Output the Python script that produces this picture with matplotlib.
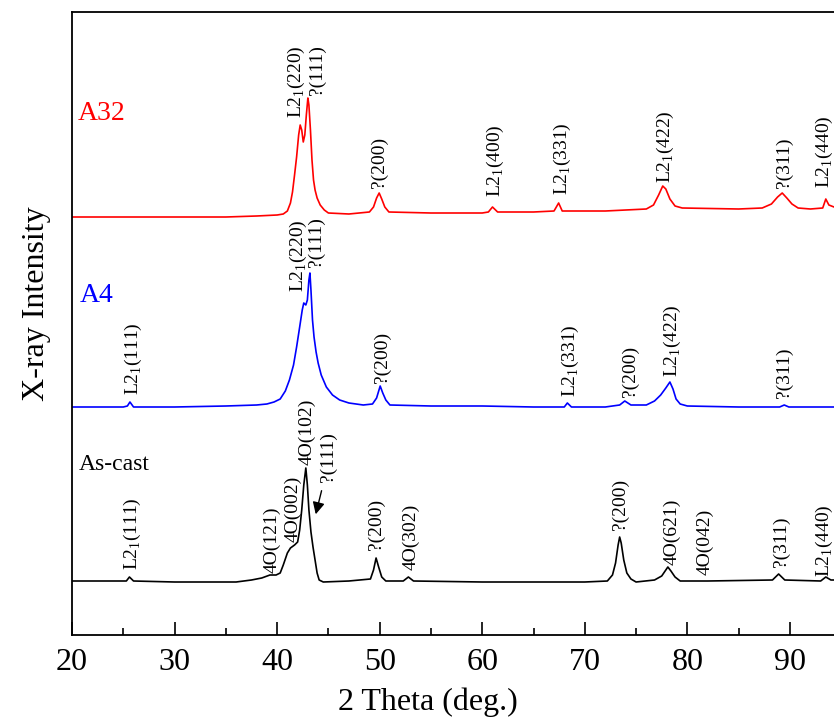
import matplotlib
matplotlib.use("Agg")
import matplotlib.pyplot as plt
from matplotlib.ticker import MultipleLocator

plt.rcParams['font.family'] = ['Liberation Serif', 'DejaVu Serif']
plt.rcParams['mathtext.fontset'] = 'custom'
plt.rcParams['mathtext.rm'] = 'Liberation Serif'

# traces (already offset), x = 2 theta
a32_x = [20, 25, 30, 35, 38, 40.0, 40.6, 41.0, 41.3, 41.5, 41.7, 41.9, 42.1, 42.25, 42.4,
         42.55, 42.7, 42.85, 43.0, 43.1, 43.25, 43.4, 43.55, 43.7, 43.9, 44.2, 44.6, 45.0,
         47, 49.0, 49.4, 49.7, 49.95, 50.2, 50.5, 50.9, 55, 60, 60.6, 61.0, 61.5,
         65, 67.0, 67.45, 67.8, 72, 76, 76.7, 77.2, 77.6, 77.9, 78.3, 78.8, 79.5, 85,
         87.3, 88.2, 88.8, 89.25, 89.7, 90.2, 90.8, 92, 93.2, 93.5, 93.8, 94.3]
a32_y = [418, 418, 418, 418, 419, 420, 421, 424, 432, 443, 460, 478, 500, 510, 505,
         493, 500, 520, 537, 530, 505, 475, 455, 445, 437, 430, 425, 422,
         421, 423, 428, 437, 442, 436, 428, 423, 422, 422, 423, 428, 423,
         423, 424, 432, 424, 424, 426, 430, 440, 449, 446, 436, 429, 427, 426,
         427, 431, 438, 442, 437, 431, 427, 426, 427, 436, 430, 428]

a4_x = [20, 25, 25.4, 25.65, 26.0, 30, 35, 38, 39, 39.7, 40.3, 40.8, 41.2, 41.6, 41.9,
        42.2, 42.45, 42.6, 42.8, 42.95, 43.1, 43.2, 43.3, 43.45, 43.6, 43.8, 44.0, 44.3,
        44.8, 45.4, 46.1, 47, 48.4, 49.3, 49.7, 50.05, 50.3, 50.6, 51.0, 55, 60, 65,
        68.0, 68.3, 68.7, 72, 73.4, 73.9, 74.5, 76.0, 76.8, 77.4, 77.9, 78.3, 78.6,
        78.9, 79.3, 80, 85, 89.0, 89.45, 89.9, 94.3]
a4_y = [228, 228, 229, 233, 228, 228, 229, 230, 231, 233, 236, 244, 255, 270, 288,
        308, 325, 332, 330, 335, 355, 362, 345, 315, 298, 283, 272, 260,
        248, 240, 235, 232, 230, 231, 237, 249, 242, 235, 230, 229, 229, 228,
        228, 232, 228, 228, 230, 234, 230, 230, 234, 240, 247, 253, 246,
        236, 231, 229, 228, 228, 230, 228, 228]

cast_x = [20, 24, 25.3, 25.6, 26.0, 30, 34, 36, 37.5, 38.5, 39.3, 39.9, 40.3, 40.6, 41.0,
          41.3, 41.7, 42.0, 42.2, 42.4, 42.6, 42.8, 42.95, 43.1, 43.3, 43.5, 43.7, 43.9,
          44.1, 44.5, 47, 49.1, 49.4, 49.65, 49.9, 50.2, 50.6, 52.3, 52.8, 53.3, 60, 70,
          72.2, 72.7, 73.0, 73.25, 73.4, 73.55, 73.8, 74.1, 74.5, 75, 76.8, 77.5, 77.9,
          78.1, 78.4, 78.8, 79.3, 81.5, 82, 88.3, 88.9, 89.5, 93.0, 93.5, 94.0, 94.3]
cast_y = [54, 54, 54, 58, 54, 53, 53, 53, 55, 57, 60, 60, 62, 70, 82,
          87, 90, 93, 105, 125, 150, 167, 150, 125, 103, 88, 75, 62,
          55, 53, 54, 56, 65, 77, 68, 58, 54, 54, 58, 54, 53, 53,
          54, 60, 72, 90, 98, 92, 75, 62, 56, 53, 55, 59, 65,
          68, 64, 58, 54, 54, 54, 55, 61, 55, 54, 58, 55, 55]

L21 = r'L2$_{\rm 1}$'
a32_labels = [(41.85, 517, L21 + '(220)'), (43.9, 540, '?(111)'), (50.0, 447, '?(200)'),
              (61.3, 438, L21 + '(400)'), (67.8, 440, L21 + '(331)'), (77.9, 452, L21 + '(422)'),
              (89.5, 447, '?(311)'), (93.35, 447, L21 + '(440)')]
a4_labels = [(26.0, 240, L21 + '(111)'), (42.1, 343, L21 + '(220)'), (43.8, 368, '?(111)'),
             (50.3, 252, '?(200)'), (68.6, 238, L21 + '(331)'), (74.4, 238, '?(200)'),
             (78.5, 258, L21 + '(422)'), (89.5, 237, '?(311)')]
cast_labels = [(25.9, 65, L21 + '(111)'), (39.5, 62, '4O(121)'), (41.5, 93, '4O(002)'),
               (42.9, 170, '4O(102)'), (45.0, 153, '?(111)'), (49.7, 85, '?(200)'),
               (53.1, 65, '4O(302)'), (73.5, 105, '?(200)'), (78.5, 70, '4O(621)'),
               (81.7, 60, '4O(042)'), (89.2, 68, '?(311)'), (93.35, 58, L21 + '(440)')]

fig = plt.figure(figsize=(8.34, 7.22), dpi=100)
ax = fig.add_axes([72/834, 87/722, 762/834, 623/722])

ax.plot(a32_x, a32_y, color='red', lw=1.2)
ax.plot(a4_x, a4_y, color='blue', lw=1.2)
ax.plot(cast_x, cast_y, color='black', lw=1.2)

for lst in (a32_labels, a4_labels, cast_labels):
    for x, y, s in lst:
        ax.text(x, y, s, rotation=90, ha='center', va='bottom', fontsize=14, clip_on=False)

ax.annotate('', xy=(43.7, 118), xytext=(44.4, 147),
            arrowprops=dict(arrowstyle='-|>', color='black', lw=1.0, mutation_scale=18))

ax.text(20.6, 521, 'A32', color='red', fontsize=20, ha='left', va='center')
ax.text(20.8, 340, 'A4', color='blue', fontsize=20, ha='left', va='center')
ax.text(20.7, 170, 'As-cast', color='black', fontsize=17, ha='left', va='center')

ax.set_xlim(20, 94.3)
ax.set_ylim(0, 623)
ax.set_yticks([])
ax.xaxis.set_major_locator(MultipleLocator(10))
ax.xaxis.set_minor_locator(MultipleLocator(5))
ax.tick_params(axis='x', which='major', direction='in', length=9.5, width=1.2, labelsize=23, pad=9)
ax.tick_params(axis='x', which='minor', direction='in', length=5, width=1.2)
ax.spines['right'].set_visible(False)
for sp in ('left', 'top', 'bottom'):
    ax.spines[sp].set_linewidth(1.3)

ax.set_xlabel('2 Theta (deg.)', fontsize=23)
ax.xaxis.set_label_coords(0.467, -0.085)
ax.set_ylabel('X-ray Intensity', fontsize=23)
ax.yaxis.set_label_coords(-0.028, 0.532)

fig.savefig('out.png', dpi=100)
